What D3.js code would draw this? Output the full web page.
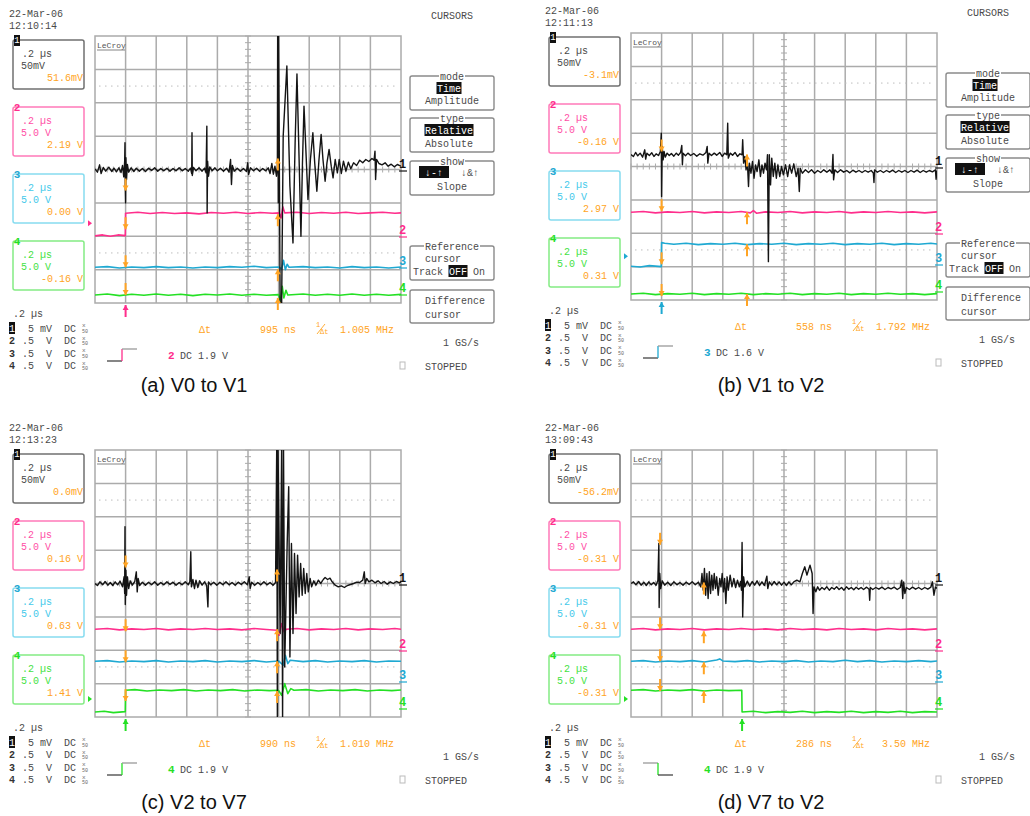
<!DOCTYPE html>
<meta charset="utf-8">
<style>
body { margin: 0; background: #fff; }
svg text { font-family: "Liberation Mono", "DejaVu Sans Mono", monospace; font-size: 10px; fill: #4a4a4a; white-space: pre; }
svg text.cap { font-family: "Liberation Sans", Arial, sans-serif; font-size: 20px; fill: #111; }
</style>
<svg width="1030" height="816"></svg>
<script src="https://d3js.org/d3.v7.min.js"></script>
<script>

// ---- data: (a) (b) (c) (d) ----
var captions = ["(a) V0 to V1", "(b) V1 to V2", "(c) V2 to V7", "(d) V7 to V2"];
var dates = ["22-Mar-06", "22-Mar-06", "22-Mar-06", "22-Mar-06"];
var times = ["12:10:14", "12:11:13", "12:13:23", "13:09:43"];
var ch1Readout = ["51.6mV", "-3.1mV", "0.0mV", "-56.2mV"];
var ch2Readout = ["2.19 V", "-0.16 V", "0.16 V", "-0.31 V"];
var ch3Readout = ["0.00 V", "2.97 V", "0.63 V", "-0.31 V"];
var ch4Readout = ["-0.16 V", "0.31 V", "1.41 V", "-0.31 V"];
var deltaT = ["995 ns", "558 ns", "990 ns", "286 ns"];
var invDeltaT = ["1.005 MHz", "1.792 MHz", "1.010 MHz", "3.50 MHz"];
var trigChannel = [2, 3, 4, 4];
var trigLevel = ["1.9 V", "1.6 V", "1.9 V", "1.9 V"];
var trigSlope = ["rise", "rise", "rise", "fall"];
var trigTime = [1, 1, 1, 3.63];        // divisions
var trigMark = [-1.61, -2.69, -3.46, -3.46];
var refCursor = [1, 1, 1, 0.95];
var difCursor = [5.975, 3.79, 5.95, 2.38];
var refTips = [[-0.63, -1.79, -2.93, -3.76], [0.45, -1.34, -2.93, -3.88], [0.48, -1.43, -2.36, -3.52], [1.16, -1.37, -2.33, -3.22]];
var difTips = [[0.33, -1.34, -2.99, -3.85], [0.36, -1.37, -2.33, -3.82], [0.42, -1.37, -2.33, -3.22], [0.03, -1.43, -2.36, -3.22]];
var showMenu = [true, true, false, false];
var chanScale = ["  5 mV", " .5  V", " .5  V", " .5  V"];

// traces: [time (div), level (div)]
var ch1A = [[0,0.02],[0.08,-0.08],[0.15,0.14],[0.2,-0.12],[0.27,0.06],[0.35,-0.05],[0.45,0.07],[0.55,-0.06],[0.62,0.04],[0.7,-0.07],[0.78,0.05],[0.85,-0.09],[0.9,0.12],[0.94,-0.22],[0.97,0.25],[0.98,0.8],[0.99,-0.5],[1.0,-1.0],[1.01,0.35],[1.03,-0.3],[1.06,0.15],[1.1,-0.08],[1.18,0.05],[1.27,-0.06],[1.35,0.04],[1.45,-0.05],[1.55,0.03],[1.65,-0.06],[1.75,0.04],[1.85,-0.03],[1.95,0.05],[2.05,-0.05],[2.15,0.03],[2.25,-0.04],[2.35,0.04],[2.45,-0.05],[2.55,0.03],[2.65,-0.04],[2.75,0.05],[2.85,-0.04],[2.95,0.03],[3.05,-0.05],[3.12,0.04],[3.16,-0.12],[3.17,1.1],[3.18,-0.18],[3.22,0.06],[3.3,-0.04],[3.4,0.05],[3.5,-0.05],[3.58,0.04],[3.63,-0.1],[3.655,1.3],[3.665,-1.3],[3.68,0.25],[3.71,-0.2],[3.75,0.08],[3.83,-0.04],[3.92,0.05],[4.0,-0.04],[4.1,0.04],[4.2,-0.05],[4.3,0.04],[4.38,-0.08],[4.43,0.3],[4.46,-0.45],[4.49,0.12],[4.55,-0.05],[4.65,0.04],[4.75,-0.05],[4.85,0.03],[4.95,-0.06],[4.99,0.2],[5.02,-0.15],[5.08,0.05],[5.18,-0.04],[5.28,0.04],[5.38,-0.05],[5.48,0.03],[5.58,-0.04],[5.66,0.05],[5.72,-0.12],[5.78,0.18],[5.83,-0.14],[5.88,0.1],[5.93,-0.2],[5.96,0.1],[5.97,4.2],[5.99,-1],[6.0,4.2],[6.05,-4.0],[6.1,-4.0],[6.15,1.0],[6.27,3.1],[6.37,-0.5],[6.47,-2.2],[6.54,0.8],[6.6,2.86],[6.67,0.3],[6.73,-2.0],[6.78,0.2],[6.83,1.9],[6.9,0.4],[6.96,-0.9],[7.04,0.3],[7.12,1.1],[7.18,0.2],[7.25,-0.65],[7.32,0.3],[7.39,1.05],[7.45,0.3],[7.52,-0.35],[7.58,0.2],[7.65,0.6],[7.72,0.1],[7.78,-0.25],[7.85,0.3],[7.92,-0.1],[7.98,0.3],[8.05,-0.12],[8.12,0.25],[8.2,-0.05],[8.28,0.22],[8.36,0.02],[8.45,0.2],[8.55,0.12],[8.65,0.28],[8.75,0.2],[8.85,0.3],[8.95,0.24],[9.05,0.33],[9.12,0.28],[9.15,0.55],[9.17,-0.3],[9.2,0.3],[9.28,0.18],[9.38,0.14],[9.48,0.2],[9.58,0.1],[9.68,0.16],[9.78,0.08],[9.88,0.15],[10,0.1]];
var ch2A = [[0,-1.99],[0.25,-1.96],[0.5,-2.0],[0.75,-1.96],[0.99,-1.98],[1.0,-1.31],[1.4,-1.28],[1.8,-1.32],[2.2,-1.29],[2.6,-1.32],[3.0,-1.3],[3.4,-1.33],[3.8,-1.29],[4.2,-1.31],[4.6,-1.28],[5.0,-1.32],[5.4,-1.29],[5.8,-1.31],[6.02,-1.3],[6.08,-1.45],[6.14,-1.12],[6.2,-1.3],[6.6,-1.28],[7.0,-1.32],[7.4,-1.29],[7.8,-1.31],[8.2,-1.28],[8.6,-1.32],[9.0,-1.3],[9.4,-1.28],[9.8,-1.31],[10,-1.3]];
var ch3A = [[0,-2.93],[0.4,-2.91],[0.8,-2.95],[1.2,-2.92],[1.6,-2.94],[2.0,-2.91],[2.4,-2.94],[2.8,-2.92],[3.2,-2.95],[3.6,-2.92],[4.0,-2.94],[4.4,-2.91],[4.8,-2.93],[5.2,-2.9],[5.6,-2.94],[6.0,-2.92],[6.1,-2.98],[6.16,-2.72],[6.22,-3.0],[6.28,-2.84],[6.34,-2.93],[6.8,-2.91],[7.2,-2.94],[7.6,-2.92],[8.0,-2.95],[8.4,-2.91],[8.8,-2.94],[9.2,-2.92],[9.6,-2.95],[10,-2.92]];
var ch4A = [[0,-3.76],[0.4,-3.73],[0.8,-3.78],[1.2,-3.74],[1.6,-3.77],[2.0,-3.73],[2.4,-3.77],[2.8,-3.74],[3.2,-3.78],[3.6,-3.74],[4.0,-3.76],[4.4,-3.73],[4.8,-3.77],[5.2,-3.74],[5.6,-3.77],[6.0,-3.75],[6.06,-3.95],[6.12,-3.5],[6.17,-3.85],[6.24,-3.62],[6.3,-3.76],[6.8,-3.73],[7.2,-3.77],[7.6,-3.74],[8.0,-3.77],[8.4,-3.73],[8.8,-3.77],[9.2,-3.74],[9.6,-3.77],[10,-3.74]];

var ch1B = [[0,0.36],[0.08,0.3],[0.15,0.42],[0.22,0.32],[0.3,0.4],[0.38,0.28],[0.45,0.5],[0.48,0.22],[0.52,0.4],[0.6,0.33],[0.68,0.41],[0.75,0.3],[0.82,0.38],[0.9,0.33],[0.96,0.45],[0.99,1.0],[1.0,-0.9],[1.02,0.6],[1.05,0.2],[1.08,0.45],[1.12,0.28],[1.18,0.4],[1.25,0.33],[1.32,0.39],[1.4,0.31],[1.48,0.4],[1.55,0.34],[1.62,0.42],[1.66,0.63],[1.68,0.05],[1.7,0.4],[1.78,0.32],[1.86,0.4],[1.95,0.33],[2.05,0.39],[2.15,0.31],[2.25,0.38],[2.35,0.34],[2.45,0.42],[2.49,0.6],[2.51,0.1],[2.55,0.4],[2.63,0.33],[2.72,0.4],[2.8,0.34],[2.9,0.42],[2.98,0.3],[3.06,0.4],[3.13,0.35],[3.16,1.3],[3.18,0.25],[3.24,0.4],[3.32,0.34],[3.4,0.42],[3.48,0.3],[3.56,0.38],[3.63,0.35],[3.65,0.8],[3.68,0.1],[3.72,0.3],[3.76,-0.1],[3.8,0.2],[3.84,-0.6],[3.87,0.1],[3.92,-0.2],[3.97,0.15],[4.02,-0.35],[4.07,0.05],[4.12,-0.15],[4.18,0.2],[4.23,-0.3],[4.28,0.05],[4.33,-0.2],[4.38,0.1],[4.43,-0.1],[4.46,0.35],[4.49,-2.85],[4.52,0.35],[4.56,-0.55],[4.6,0.25],[4.65,-0.3],[4.7,0.1],[4.75,-0.35],[4.8,0.05],[4.86,-0.3],[4.92,0.0],[4.98,-0.25],[5.05,0.05],[5.12,-0.3],[5.18,0.05],[5.25,-0.2],[5.32,0.08],[5.4,-0.3],[5.46,-0.05],[5.5,-0.75],[5.53,-0.05],[5.6,-0.2],[5.7,-0.1],[5.8,-0.18],[5.9,-0.1],[6.0,-0.2],[6.1,-0.12],[6.2,-0.18],[6.3,-0.1],[6.4,-0.17],[6.5,-0.1],[6.57,-0.2],[6.6,0.36],[6.62,-0.4],[6.66,-0.1],[6.75,-0.18],[6.85,-0.1],[6.95,-0.17],[7.05,-0.12],[7.15,-0.19],[7.25,-0.11],[7.35,-0.17],[7.45,-0.12],[7.55,-0.18],[7.65,-0.12],[7.75,-0.17],[7.85,-0.12],[7.92,-0.2],[7.94,-0.48],[7.96,-0.1],[8.05,-0.17],[8.15,-0.12],[8.25,-0.18],[8.35,-0.12],[8.45,-0.17],[8.55,-0.11],[8.65,-0.18],[8.75,-0.12],[8.85,-0.17],[8.95,-0.12],[9.05,-0.18],[9.15,-0.12],[9.25,-0.17],[9.35,-0.11],[9.45,-0.18],[9.55,-0.12],[9.65,-0.17],[9.75,-0.12],[9.85,-0.16],[9.95,-0.1],[9.97,-0.38],[10,-0.12]];
var ch2B = [[0,-1.37],[0.4,-1.35],[0.8,-1.39],[1.2,-1.36],[1.6,-1.38],[2.0,-1.35],[2.4,-1.39],[2.8,-1.36],[3.2,-1.38],[3.6,-1.35],[3.9,-1.39],[4.0,-1.32],[4.1,-1.4],[4.4,-1.36],[4.8,-1.38],[5.2,-1.35],[5.6,-1.39],[6.0,-1.36],[6.4,-1.38],[6.8,-1.35],[7.2,-1.39],[7.6,-1.36],[8.0,-1.38],[8.4,-1.35],[8.8,-1.38],[9.2,-1.36],[9.6,-1.39],[10,-1.36]];
var ch3B = [[0,-2.99],[0.3,-3.01],[0.6,-2.97],[0.99,-3.0],[1.0,-2.28],[1.1,-2.3],[1.4,-2.33],[1.8,-2.3],[2.2,-2.34],[2.6,-2.31],[3.0,-2.33],[3.4,-2.3],[3.8,-2.34],[4.2,-2.31],[4.6,-2.33],[5.0,-2.3],[5.4,-2.34],[5.8,-2.31],[6.2,-2.33],[6.6,-2.3],[7.0,-2.34],[7.4,-2.31],[7.8,-2.33],[8.2,-2.3],[8.6,-2.34],[9.0,-2.31],[9.4,-2.33],[9.8,-2.3],[10,-2.32]];
var ch4B = [[0,-3.82],[0.4,-3.8],[0.8,-3.84],[1.2,-3.81],[1.6,-3.83],[2.0,-3.8],[2.4,-3.84],[2.8,-3.81],[3.2,-3.83],[3.6,-3.8],[4.0,-3.84],[4.4,-3.81],[4.8,-3.83],[5.2,-3.8],[5.6,-3.84],[6.0,-3.81],[6.4,-3.83],[6.8,-3.8],[7.2,-3.84],[7.6,-3.81],[8.0,-3.83],[8.4,-3.8],[8.8,-3.83],[9.2,-3.81],[9.6,-3.84],[10,-3.81]];

var ch1C = [[0,0.0],[0.08,-0.06],[0.16,0.05],[0.25,-0.04],[0.33,0.06],[0.42,-0.05],[0.5,0.03],[0.58,-0.06],[0.66,0.05],[0.74,-0.04],[0.82,0.07],[0.9,-0.1],[0.95,0.2],[0.97,-0.3],[0.98,1.7],[0.99,-0.63],[1.01,0.4],[1.03,-0.35],[1.06,0.2],[1.1,-0.15],[1.15,0.08],[1.22,-0.05],[1.3,0.06],[1.35,0.35],[1.38,-0.25],[1.41,0.15],[1.46,-0.06],[1.55,0.04],[1.65,-0.05],[1.75,0.04],[1.85,-0.04],[1.95,0.05],[2.05,-0.05],[2.15,0.03],[2.25,-0.04],[2.35,0.05],[2.45,-0.03],[2.55,0.04],[2.65,-0.05],[2.75,0.03],[2.85,-0.04],[2.95,0.05],[3.05,-0.04],[3.1,0.06],[3.13,0.95],[3.15,-0.1],[3.2,0.12],[3.25,-0.15],[3.3,0.1],[3.36,-0.12],[3.42,0.08],[3.5,-0.05],[3.58,0.05],[3.65,-0.06],[3.69,-0.7],[3.71,0.05],[3.78,-0.04],[3.88,0.04],[3.98,-0.05],[4.08,0.04],[4.18,-0.04],[4.28,0.05],[4.38,-0.04],[4.48,0.03],[4.58,-0.05],[4.68,0.04],[4.78,-0.03],[4.88,0.05],[4.98,-0.04],[5.04,0.2],[5.07,-0.15],[5.12,0.04],[5.22,-0.05],[5.32,0.03],[5.42,-0.04],[5.52,0.05],[5.62,-0.04],[5.72,0.03],[5.82,-0.05],[5.9,0.03],[5.94,4.2],[5.96,-4.2],[5.98,4.2],[6.05,-1.5],[6.1,4.2],[6.13,-4.2],[6.16,4.2],[6.2,-2.5],[6.28,1.2],[6.33,2.9],[6.37,-2.2],[6.42,1.2],[6.47,-1.5],[6.52,0.9],[6.57,-0.9],[6.62,0.85],[6.67,-0.4],[6.72,0.6],[6.77,-0.35],[6.82,0.45],[6.87,-0.3],[6.92,0.3],[6.97,-0.25],[7.03,0.15],[7.08,-0.1],[7.15,0.08],[7.22,-0.05],[7.3,0.1],[7.38,0.0],[7.46,0.12],[7.52,0.18],[7.6,0.12],[7.68,0.16],[7.75,0.05],[7.85,-0.05],[7.95,-0.1],[8.05,-0.07],[8.15,-0.12],[8.25,-0.06],[8.35,-0.03],[8.45,0.0],[8.55,0.04],[8.65,0.03],[8.75,0.1],[8.8,0.35],[8.83,0.0],[8.88,0.15],[8.95,0.05],[9.05,0.1],[9.15,0.02],[9.25,0.08],[9.35,0.0],[9.45,0.06],[9.55,-0.02],[9.65,0.05],[9.75,0.0],[9.85,0.06],[9.95,0.02],[10,0.05]];
var ch2C = [[0,-1.37],[0.4,-1.35],[0.8,-1.39],[1.2,-1.36],[1.6,-1.38],[2.0,-1.35],[2.4,-1.39],[2.8,-1.36],[3.2,-1.38],[3.6,-1.35],[4.0,-1.38],[4.4,-1.36],[4.8,-1.39],[5.2,-1.35],[5.6,-1.38],[5.95,-1.4],[6.02,-1.55],[6.1,-1.2],[6.18,-1.45],[6.25,-1.37],[6.6,-1.35],[7.0,-1.39],[7.4,-1.36],[7.8,-1.38],[8.2,-1.35],[8.6,-1.39],[9.0,-1.36],[9.4,-1.38],[9.8,-1.35],[10,-1.37]];
var ch3C = [[0,-2.33],[0.4,-2.31],[0.8,-2.35],[1.2,-2.32],[1.6,-2.34],[2.0,-2.31],[2.4,-2.35],[2.8,-2.32],[3.2,-2.34],[3.6,-2.31],[4.0,-2.35],[4.4,-2.32],[4.8,-2.34],[5.2,-2.31],[5.6,-2.35],[6.0,-2.32],[6.15,-2.45],[6.22,-2.15],[6.3,-2.4],[6.38,-2.3],[6.8,-2.34],[7.2,-2.31],[7.6,-2.35],[8.0,-2.32],[8.4,-2.34],[8.8,-2.31],[9.2,-2.35],[9.6,-2.32],[10,-2.33]];
var ch4C = [[0,-3.85],[0.3,-3.83],[0.6,-3.87],[0.99,-3.84],[1.0,-3.2],[1.3,-3.18],[1.7,-3.22],[2.1,-3.19],[2.5,-3.21],[2.9,-3.18],[3.3,-3.22],[3.7,-3.19],[4.1,-3.21],[4.5,-3.18],[4.9,-3.22],[5.3,-3.19],[5.7,-3.21],[6.0,-3.2],[6.1,-3.35],[6.2,-3.0],[6.3,-3.3],[6.4,-3.15],[6.5,-3.2],[6.9,-3.18],[7.3,-3.22],[7.7,-3.19],[8.1,-3.21],[8.5,-3.18],[8.9,-3.22],[9.3,-3.19],[9.7,-3.21],[10,-3.19]];

var ch1D = [[0,0.0],[0.08,0.05],[0.16,-0.04],[0.25,0.06],[0.33,-0.05],[0.42,0.04],[0.5,-0.06],[0.58,0.05],[0.66,-0.04],[0.74,0.03],[0.82,-0.05],[0.88,0.1],[0.91,1.2],[0.92,-0.72],[0.94,0.3],[0.97,-0.15],[1.02,0.08],[1.1,-0.05],[1.2,0.04],[1.3,-0.06],[1.4,0.05],[1.5,-0.04],[1.6,0.03],[1.7,-0.05],[1.8,0.04],[1.9,-0.03],[2.0,0.05],[2.1,-0.04],[2.2,0.04],[2.28,-0.1],[2.32,0.3],[2.36,-0.2],[2.4,0.45],[2.44,-0.35],[2.48,0.3],[2.52,-0.45],[2.56,0.35],[2.6,-0.3],[2.64,0.25],[2.68,-0.2],[2.72,0.3],[2.76,-0.15],[2.8,0.2],[2.85,-0.35],[2.9,0.15],[2.94,-0.1],[2.98,0.3],[3.02,-0.25],[3.06,0.15],[3.1,-0.6],[3.14,0.2],[3.18,-0.2],[3.24,0.25],[3.3,-0.1],[3.36,0.15],[3.42,-0.12],[3.48,0.1],[3.54,-0.1],[3.58,0.06],[3.61,-0.2],[3.63,1.23],[3.65,-1.0],[3.68,0.2],[3.72,-0.1],[3.8,0.07],[3.88,-0.08],[3.96,0.06],[4.04,-0.05],[4.12,0.08],[4.2,-0.06],[4.28,0.05],[4.36,-0.06],[4.44,0.22],[4.47,-0.15],[4.52,0.05],[4.6,-0.05],[4.68,0.06],[4.76,-0.04],[4.84,0.05],[4.92,-0.05],[5.0,0.04],[5.08,-0.06],[5.16,0.05],[5.24,-0.04],[5.32,0.05],[5.42,0.1],[5.52,0.05],[5.6,0.3],[5.68,0.5],[5.75,0.25],[5.85,0.55],[5.92,0.3],[5.95,-0.9],[5.98,-0.1],[6.04,-0.25],[6.1,-0.1],[6.16,-0.2],[6.24,-0.12],[6.32,-0.18],[6.4,-0.1],[6.48,-0.2],[6.56,-0.12],[6.64,-0.17],[6.72,-0.1],[6.8,-0.18],[6.88,-0.12],[6.96,-0.2],[7.04,-0.1],[7.12,-0.17],[7.2,-0.12],[7.28,-0.19],[7.36,-0.11],[7.44,-0.17],[7.52,-0.12],[7.6,-0.18],[7.7,-0.11],[7.78,-0.17],[7.8,-0.5],[7.82,-0.12],[7.9,-0.18],[8.0,-0.12],[8.1,-0.17],[8.2,-0.11],[8.3,-0.18],[8.4,-0.12],[8.5,-0.16],[8.6,-0.11],[8.7,-0.18],[8.8,-0.12],[8.85,0.1],[8.88,-0.45],[8.91,0.05],[8.95,-0.3],[9.0,-0.12],[9.1,-0.18],[9.2,-0.11],[9.3,-0.17],[9.4,-0.12],[9.5,-0.18],[9.6,-0.12],[9.7,-0.17],[9.8,-0.11],[9.85,0.05],[9.9,-0.35],[9.95,-0.1],[10,-0.15]];
var ch2D = [[0,-1.37],[0.4,-1.35],[0.8,-1.39],[1.2,-1.36],[1.6,-1.38],[2.0,-1.35],[2.4,-1.39],[2.8,-1.36],[3.2,-1.38],[3.6,-1.35],[4.0,-1.38],[4.4,-1.36],[4.8,-1.39],[5.2,-1.35],[5.6,-1.38],[6.0,-1.36],[6.4,-1.39],[6.8,-1.35],[7.2,-1.38],[7.6,-1.36],[8.0,-1.39],[8.4,-1.35],[8.8,-1.38],[9.2,-1.36],[9.6,-1.39],[10,-1.36]];
var ch3D = [[0,-2.33],[0.4,-2.31],[0.8,-2.35],[1.2,-2.32],[1.6,-2.34],[2.0,-2.31],[2.4,-2.35],[2.8,-2.29],[2.9,-2.26],[3.0,-2.32],[3.4,-2.34],[3.8,-2.31],[4.2,-2.35],[4.6,-2.32],[5.0,-2.34],[5.4,-2.31],[5.8,-2.35],[6.2,-2.32],[6.6,-2.34],[7.0,-2.3],[7.4,-2.34],[7.8,-2.31],[8.2,-2.35],[8.6,-2.32],[9.0,-2.34],[9.4,-2.31],[9.8,-2.34],[10,-2.32]];
var ch4D = [[0,-3.2],[0.4,-3.18],[0.8,-3.22],[1.2,-3.19],[1.6,-3.21],[2.0,-3.18],[2.4,-3.22],[2.8,-3.19],[3.2,-3.21],[3.62,-3.2],[3.63,-3.85],[4.0,-3.83],[4.4,-3.87],[4.8,-3.84],[5.2,-3.86],[5.6,-3.83],[6.0,-3.87],[6.4,-3.84],[6.8,-3.86],[7.2,-3.83],[7.6,-3.87],[8.0,-3.84],[8.4,-3.86],[8.8,-3.83],[9.2,-3.87],[9.6,-3.84],[10,-3.85]];

var traces = [[ch1A, ch2A, ch3A, ch4A], [ch1B, ch2B, ch3B, ch4B], [ch1C, ch2C, ch3C, ch4C], [ch1D, ch2D, ch3D, ch4D]];

// ---- layout / style ----
var panelLeft = [95, 631, 95, 631],
    panelTop = [36, 33, 450, 450],
    captionPos = [[194, 392], [771, 392], [194, 809], [771, 809]];
var W = 306, H = 267;
var traceColor = ["#141414", "#ff2e8c", "#1fa9d2", "#24e024"],
    boxText = ["#4a4a4a", "#ff4fa6", "#44c9ea", "#44e244"],
    boxLine = ["#707070", "#ff7ab9", "#86dcf0", "#84ec84"],
    orange = "#ffa424",
    gridColor = "#ababab";

var svg = d3.select("svg");
var x = d3.scaleLinear().domain([0, 10]).range([0, W]);
var y = d3.scaleLinear().domain([-4, 4]).range([H, 0]);
var line = d3.line().x(function(d) { return x(d[0]); }).y(function(d) { return y(d[1]); });

function arrow(g, px, tip, dir, color) {
  var s = dir === "down" ? -1 : 1;
  g.append("line").attr("x1", px).attr("x2", px).attr("y1", tip + s * 12).attr("y2", tip)
    .attr("stroke", color).attr("stroke-width", 2);
  g.append("path").attr("d", "M" + (px - 3) + "," + (tip + s * 5) + "L" + (px + 3) + "," + (tip + s * 5) + "L" + px + "," + tip + "Z")
    .attr("fill", color);
}

function txt(g, px, py, s, color, anchor, size) {
  var t = g.append("text").attr("x", px).attr("y", py).attr("dy", "0.35em").text(s);
  if (color) t.style("fill", color);
  if (anchor) t.attr("text-anchor", anchor);
  if (size) t.style("font-size", size + "px");
  return t;
}

function menuBox(g, x0, y0, h, label) {
  g.append("rect").attr("x", x0).attr("y", y0).attr("width", 84).attr("height", h).attr("rx", 2)
    .attr("fill", "none").attr("stroke", "#8a8a8a").attr("stroke-width", 1.4);
  if (label) {
    var w = label.length * 6 + 2;
    g.append("rect").attr("x", x0 + 42 - w / 2).attr("y", y0 - 4).attr("width", w).attr("height", 8).attr("fill", "#fff");
    txt(g, x0 + 42, y0, label, null, "middle");
  }
}

function inverse(g, cx, cy, s, w) {
  g.append("rect").attr("x", cx - w / 2).attr("y", cy - 6).attr("width", w).attr("height", 12).attr("fill", "#111");
  txt(g, cx, cy, s, "#fff", "middle");
}

captions.forEach(function(cap, i) {
  var g = svg.append("g").attr("transform", "translate(" + panelLeft[i] + "," + panelTop[i] + ")");

  // header
  txt(g, -86, -23, dates[i]);
  txt(g, -86, -11, times[i]);

  // grid
  var grid = g.append("g");
  grid.selectAll(".v").data(d3.range(1, 10)).enter().append("line")
    .attr("x1", x).attr("x2", x).attr("y1", 0).attr("y2", H)
    .attr("stroke", gridColor).attr("stroke-width", 1.5);
  grid.selectAll(".h").data(d3.range(-3, 4)).enter().append("line")
    .attr("x1", 0).attr("x2", W).attr("y1", y).attr("y2", y)
    .attr("stroke", gridColor).attr("stroke-width", 1.5);
  grid.selectAll(".dot").data([2.5, -2.5]).enter().append("line")
    .attr("x1", 4).attr("x2", W - 4).attr("y1", y).attr("y2", y)
    .attr("stroke", "#bdbdbd").attr("stroke-width", 1).attr("stroke-dasharray", "1.5,4.5");
  grid.selectAll(".tv").data(d3.range(-4, 4.01, 0.2)).enter().append("line")
    .attr("x1", x(5) - 3).attr("x2", x(5) + 3).attr("y1", y).attr("y2", y)
    .attr("stroke", gridColor).attr("stroke-width", 1);
  grid.selectAll(".th").data(d3.range(0, 10.01, 0.2)).enter().append("line")
    .attr("x1", x).attr("x2", x).attr("y1", y(0) - 3).attr("y2", y(0) + 3)
    .attr("stroke", gridColor).attr("stroke-width", 1);
  grid.append("rect").attr("width", W).attr("height", H).attr("fill", "none")
    .attr("stroke", gridColor).attr("stroke-width", 1.5);
  txt(g, 2, 9, "LeCroy", "#555", null, 8);
  g.append("line").attr("x1", 2).attr("x2", 30).attr("y1", 14).attr("y2", 14).attr("stroke", "#666").attr("stroke-width", 0.8);

  // traces, clipped to the screen
  g.append("clipPath").attr("id", "clip" + i).append("rect").attr("width", W).attr("height", H);
  var tg = g.append("g").attr("clip-path", "url(#clip" + i + ")");
  [3, 2, 1, 0].forEach(function(c) {
    tg.append("path").datum(traces[i][c]).attr("d", line).attr("fill", "none")
      .attr("stroke", traceColor[c]).attr("stroke-width", c === 0 ? 1.4 : 1.6)
      .attr("stroke-linejoin", "round");
  });

  // channel labels on the right
  var labelY = [128, 194, 225, 252];
  labelY.forEach(function(ly, c) {
    txt(g, 304, ly, String(c + 1), traceColor[c], null, 12).style("font-weight", "bold");
    g.append("line").attr("x1", 304).attr("x2", 312).attr("y1", ly + 7).attr("y2", ly + 7)
      .attr("stroke", traceColor[c]).attr("stroke-width", 1.2);
  });

  // trigger level marker
  var tc = trigChannel[i] - 1;
  g.append("path").attr("d", "M-7," + (y(trigMark[i]) - 3) + "L-3," + y(trigMark[i]) + "L-7," + (y(trigMark[i]) + 3) + "Z")
    .attr("fill", traceColor[tc]);
  arrow(g, x(trigTime[i]), H + 2, "up", traceColor[tc]);

  // cursors
  refTips[i].forEach(function(v) { arrow(g, x(refCursor[i]), y(v), "down", orange); });
  difTips[i].forEach(function(v) { arrow(g, x(difCursor[i]), y(v), "up", orange); });

  // channel boxes
  var boxTop = [4, 71, 138, 205];
  var second = ["50mV", "5.0 V", "5.0 V", "5.0 V"];
  var reads = [ch1Readout[i], ch2Readout[i], ch3Readout[i], ch4Readout[i]];
  boxTop.forEach(function(bt, c) {
    g.append("rect").attr("x", -82).attr("y", bt).attr("width", 71).attr("height", 49).attr("rx", 2)
      .attr("fill", "none").attr("stroke", boxLine[c]).attr("stroke-width", 1.5);
    if (c === 0) {
      g.append("rect").attr("x", -81).attr("y", bt - 5).attr("width", 6).attr("height", 11).attr("fill", "#111");
      txt(g, -78, bt, "1", "#fff", "middle", 9);
    } else {
      txt(g, -78, bt, String(c + 1), traceColor[c], "middle", 11).style("font-weight", "bold");
    }
    txt(g, -73, bt + 13, ".2 µs", boxText[c]);
    txt(g, -74, bt + 25, second[c], boxText[c]);
    txt(g, -12, bt + 37, reads[c], orange, "end");
  });

  // bottom status
  txt(g, -82, H + 10, ".2 µs");
  [0, 1, 2, 3].forEach(function(c) {
    var ry = H + 25 + c * 12.5;
    if (c === 0) inverse(g, -83, ry, "1", 6);
    else txt(g, -83, ry, String(c + 1), "#333", "middle").style("font-weight", "bold");
    txt(g, -79, ry, chanScale[c]);
    txt(g, -31, ry, "DC");
    txt(g, -13, ry - 3, "x", "#666", null, 6);
    txt(g, -13, ry + 3, "50", "#666", null, 5);
  });

  // trigger slope icon + level
  var lowY = H + 58, highY = H + 46, ic = g.append("g").attr("fill", "none").attr("stroke-width", 1.3);
  if (trigSlope[i] === "rise") {
    ic.append("line").attr("x1", 12).attr("x2", 27).attr("y1", lowY).attr("y2", lowY).attr("stroke", "#444");
    ic.append("line").attr("x1", 27).attr("x2", 27).attr("y1", lowY).attr("y2", highY).attr("stroke", traceColor[tc]);
    ic.append("line").attr("x1", 27).attr("x2", 42).attr("y1", highY).attr("y2", highY).attr("stroke", "#999");
  } else {
    ic.append("line").attr("x1", 12).attr("x2", 27).attr("y1", highY).attr("y2", highY).attr("stroke", "#999");
    ic.append("line").attr("x1", 27).attr("x2", 27).attr("y1", highY).attr("y2", lowY).attr("stroke", traceColor[tc]);
    ic.append("line").attr("x1", 27).attr("x2", 42).attr("y1", lowY).attr("y2", lowY).attr("stroke", "#444");
  }
  txt(g, 73, H + 52, String(trigChannel[i]), traceColor[tc], null, 11).style("font-weight", "bold");
  txt(g, 85, H + 52, "DC " + trigLevel[i]);

  // cursor readouts
  txt(g, 104, H + 26, "Δt", orange);
  txt(g, 201, H + 26, deltaT[i], orange, "end");
  txt(g, 221, H + 22, "1", orange, null, 7);
  g.append("line").attr("x1", 222).attr("x2", 230).attr("y1", H + 31).attr("y2", H + 21).attr("stroke", orange).attr("stroke-width", 0.9);
  txt(g, 225, H + 29, "Δt", orange, null, 7);
  txt(g, 299, H + 26, invDeltaT[i], orange, "end");

  txt(g, 384, H + 39, "1 GS/s", null, "end");
  g.append("rect").attr("x", 305).attr("y", H + 59).attr("width", 5).attr("height", 7)
    .attr("fill", "none").attr("stroke", "#bbb").attr("stroke-width", 1);
  txt(g, 330, H + 63, "STOPPED");

  // cursor menu
  if (showMenu[i]) {
    txt(g, 357, -21, "CURSORS", null, "middle");
    menuBox(g, 315, 40, 34, "mode");
    inverse(g, 354, 52, "Time", 25);
    txt(g, 357, 64, "Amplitude", null, "middle");
    menuBox(g, 315, 82, 34, "type");
    inverse(g, 354, 94, "Relative", 49);
    txt(g, 354, 107, "Absolute", null, "middle");
    menuBox(g, 315, 125, 34, "show");
    inverse(g, 339, 136, "↓-↑", 30);
    txt(g, 375, 136, "↓&↑", null, "middle");
    txt(g, 357, 150, "Slope", null, "middle");
    menuBox(g, 315, 210, 34, "Reference");
    txt(g, 330, 222, "cursor");
    txt(g, 318, 235, "Track");
    inverse(g, 363, 235, "OFF", 19);
    txt(g, 378, 235, "On");
    menuBox(g, 315, 254, 33, null);
    txt(g, 330, 264, "Difference");
    txt(g, 330, 278, "cursor");
  }

  svg.append("text").attr("class", "cap").attr("x", captionPos[i][0]).attr("y", captionPos[i][1])
    .attr("text-anchor", "middle").text(cap);
});

</script>
